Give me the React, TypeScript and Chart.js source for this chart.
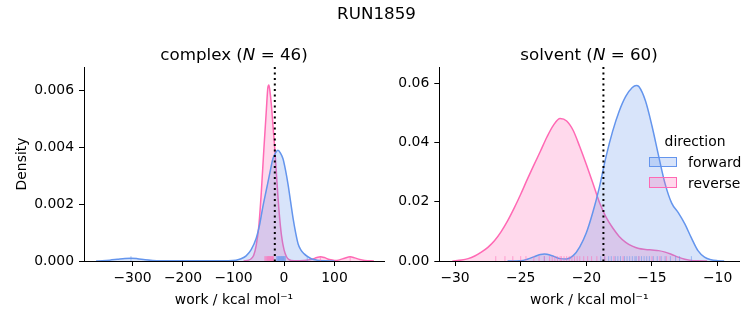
import React, { useEffect, useRef } from "react";
import { Chart, registerables } from "chart.js";

Chart.register(...registerables);

const FONT = "'DejaVu Sans', 'Liberation Sans', sans-serif";
const BLUE = "rgb(100,149,237)";
const BLUE_FILL = "rgba(100,149,237,0.25)";
const BLUE_RUG = "rgba(100,149,237,0.55)";
const PINK = "rgb(255,105,180)";
const PINK_FILL = "rgba(255,105,180,0.25)";
const PINK_RUG = "rgba(255,105,180,0.55)";

// ---------- complex phase ----------
const complexForwardX = [-372, -360, -345, -330, -315, -303, -290, -275, -260, -240, -200, -150, -110, -95, -85, -75, -65, -55, -48, -42, -35, -28, -22, -17, -12, -7, -2, 3, 8, 13, 18, 23, 28, 33, 40, 47, 55, 65, 80, 100];
const complexForwardY = [0, 0.00001, 0.00003, 0.00006, 0.00009, 0.0001, 0.00008, 0.00004, 0.00002, 0.00001, 0.000005, 0.000005, 0.00001, 0.00003, 0.00008, 0.00018, 0.0004, 0.0008, 0.0013, 0.0019, 0.0025, 0.0031, 0.0036, 0.0038, 0.0039, 0.0038, 0.0036, 0.0032, 0.0027, 0.0021, 0.0015, 0.001, 0.0006, 0.0004, 0.00025, 0.00015, 0.00007, 0.00003, 0.00001, 0];
const complexReverseX = [-80, -70, -65, -60, -55, -50, -45, -40, -35, -32, -30, -28, -25, -22, -18, -14, -10, -5, 0, 5, 10, 20, 40, 55, 65, 72, 80, 90, 100, 110, 120, 131, 140, 150, 160, 178];
const complexReverseY = [0, 0.00003, 0.00008, 0.0002, 0.00055, 0.0012, 0.0024, 0.0039, 0.0053, 0.0061, 0.0062, 0.006, 0.0055, 0.0048, 0.0039, 0.0028, 0.0018, 0.0009, 0.0004, 0.00015, 0.00005, 0.00001, 0.00002, 0.00006, 0.00012, 0.00015, 0.00012, 0.00005, 0.00002, 0.00004, 0.0001, 0.00015, 0.00011, 0.00005, 0.00002, 0];
const complexForwardRug = [-303, -15, -13, -12, -11, -10, -9, -8, -7, -6, -5, -4, -3, -2, -1, 0, 1, 3, 46];
const complexReverseRug = [-38, -36, -35, -33, -32, -31, -30, -29, -28, -27, -26, -25, -24, -23, -22, -21, 72, 131];
const complexDG = -18.2;
const complexXTicks = [-300, -200, -100, 0, 100];
const complexYTicks = [0, 0.002, 0.004, 0.006];

// ---------- solvent phase ----------
const solventForwardX = [-26, -25, -24.5, -24, -23.5, -23.2, -23, -22.5, -22, -21.5, -21, -20.5, -20, -19.5, -19, -18.5, -18, -17.5, -17, -16.5, -16.2, -16, -15.5, -15, -14.5, -14, -13.5, -13, -12.5, -12, -11.5, -11, -10.5, -10, -9.5];
const solventForwardY = [0, 0.0001, 0.0006, 0.0014, 0.0022, 0.0024, 0.0023, 0.0016, 0.0008, 0.0007, 0.0018, 0.0048, 0.0095, 0.0165, 0.025, 0.0352, 0.0437, 0.0505, 0.0555, 0.0585, 0.0592, 0.0588, 0.054, 0.0455, 0.0355, 0.026, 0.0195, 0.0163, 0.0125, 0.0078, 0.0035, 0.0013, 0.0004, 0.0001, 0];
const solventReverseX = [-30.2, -29.5, -29, -28.5, -28, -27.5, -27, -26.5, -26, -25.5, -25, -24.5, -24, -23.5, -23, -22.5, -22, -21.5, -21, -20.5, -20, -19.5, -19, -18.5, -18, -17.5, -17, -16.5, -16, -15.5, -15, -14.5, -14, -13.5, -13, -12.5, -12, -11.5, -10.8];
const solventReverseY = [0, 0.0003, 0.0008, 0.0017, 0.003, 0.0046, 0.0068, 0.0098, 0.0135, 0.0178, 0.0225, 0.0275, 0.0323, 0.037, 0.0418, 0.0458, 0.048, 0.0472, 0.044, 0.0385, 0.0325, 0.0262, 0.0197, 0.0148, 0.0112, 0.0083, 0.0063, 0.005, 0.0042, 0.0039, 0.0037, 0.0035, 0.003, 0.0022, 0.0013, 0.0006, 0.0002, 0.0001, 0];
const solventForwardRug = [-23.2, -18.9, -18.6, -18.3, -18.1, -17.8, -17.6, -17.4, -17.1, -16.9, -16.7, -16.5, -16.3, -16.2, -16.0, -15.8, -15.6, -15.4, -15.2, -14.9, -14.6, -14.3, -14.0, -13.6, -13.2, -12.9, -12.0];
const solventReverseRug = [-26.9, -26.2, -25.6, -25.0, -24.6, -24.0, -23.6, -23.2, -22.8, -22.6, -22.4, -22.2, -22.0, -21.9, -21.7, -21.5, -21.3, -21.1, -20.9, -20.7, -20.5, -20.2, -19.9, -19.6, -19.2, -18.6, -17.9, -17.2, -16.0, -15.0, -14.4, -13.9];
const solventDG = -18.7;
const solventXTicks = [-30, -25, -20, -15, -10];
const solventYTicks = [0, 0.02, 0.04, 0.06];

const fmtNum = (v: number) => (v < 0 ? "\u2212" + Math.abs(v) : String(v));

type PanelSpec = {
  fx: number[]; fy: number[]; rx: number[]; ry: number[];
  fRug: number[]; rRug: number[]; dg: number;
  xTicks: number[]; yTicks: number[]; yDigits: number;
  xMin: number; xMax: number; yMax: number;
  yWidth: number; padRight: number; yTitle: string | null;
};

function buildConfig(p: PanelSpec): any {
  const pts = (xs: number[], ys: number[]) => xs.map((x, i) => ({ x, y: ys[i] }));
  const rugPlugin = {
    id: "rug",
    afterDatasetsDraw(chart: any) {
      const { ctx, chartArea, scales } = chart;
      const h = (chartArea.bottom - chartArea.top) * 0.025;
      ctx.save();
      ctx.beginPath();
      ctx.rect(chartArea.left, chartArea.top, chartArea.right - chartArea.left, chartArea.bottom - chartArea.top);
      ctx.clip();
      ctx.lineWidth = 1;
      const groups: [number[], string][] = [[p.fRug, BLUE_RUG], [p.rRug, PINK_RUG]];
      for (const [vals, col] of groups) {
        ctx.strokeStyle = col;
        for (const v of vals) {
          const x = scales.x.getPixelForValue(v);
          ctx.beginPath();
          ctx.moveTo(x, chartArea.bottom);
          ctx.lineTo(x, chartArea.bottom - h);
          ctx.stroke();
        }
      }
      ctx.restore();
    },
  };
  const vlinePlugin = {
    id: "vline",
    afterDatasetsDraw(chart: any) {
      const { ctx, chartArea, scales } = chart;
      const x = scales.x.getPixelForValue(p.dg);
      ctx.save();
      ctx.strokeStyle = "#000";
      ctx.lineWidth = 2;
      ctx.setLineDash([2.1, 3.4]);
      ctx.beginPath();
      ctx.moveTo(x, chartArea.top);
      ctx.lineTo(x, chartArea.bottom);
      ctx.stroke();
      ctx.restore();
    },
  };
  const tickFont = { family: FONT, size: 13.9 };
  return {
    type: "line",
    data: {
      datasets: [
        { label: "forward", data: pts(p.fx, p.fy), borderColor: BLUE, backgroundColor: BLUE_FILL, fill: "origin", borderWidth: 1.5, pointRadius: 0, cubicInterpolationMode: "monotone" },
        { label: "reverse", data: pts(p.rx, p.ry), borderColor: PINK, backgroundColor: PINK_FILL, fill: "origin", borderWidth: 1.5, pointRadius: 0, cubicInterpolationMode: "monotone" },
      ],
    },
    options: {
      animation: false,
      responsive: false,
      maintainAspectRatio: false,
      events: [],
      layout: { padding: { left: 0, top: 67, right: p.padRight, bottom: 0 } },
      plugins: { legend: { display: false }, tooltip: { enabled: false }, title: { display: false } },
      scales: {
        x: {
          type: "linear",
          min: p.xMin,
          max: p.xMax,
          afterBuildTicks: (s: any) => { s.ticks = p.xTicks.map((v) => ({ value: v })); },
          afterFit: (s: any) => { s.height = 64; },
          ticks: { font: tickFont, color: "#000", padding: 4, maxRotation: 0, autoSkip: false, callback: (v: any) => fmtNum(Number(v)) },
          grid: { display: true, drawOnChartArea: false, drawTicks: true, tickLength: 5, tickColor: "#000", tickWidth: 1 },
          border: { display: true, color: "#000", width: 1 },
          title: { display: true, text: "work / kcal mol\u207B\u00B9", font: tickFont, color: "#000", padding: { top: 0, bottom: 16.7 } },
        },
        y: {
          type: "linear",
          min: 0,
          max: p.yMax,
          afterBuildTicks: (s: any) => { s.ticks = p.yTicks.map((v) => ({ value: v })); },
          afterFit: (s: any) => { s.width = p.yWidth; },
          ticks: { font: tickFont, color: "#000", padding: 5, autoSkip: false, callback: (v: any) => Number(v).toFixed(p.yDigits) },
          grid: { display: true, drawOnChartArea: false, drawTicks: true, tickLength: 5, tickColor: "#000", tickWidth: 1 },
          border: { display: true, color: "#000", width: 1 },
          title: { display: !!p.yTitle, text: p.yTitle || "", font: tickFont, color: "#000", padding: { top: 13.7, bottom: 0 } },
        },
      },
    },
    plugins: [rugPlugin, vlinePlugin],
  };
}

const complexSpec: PanelSpec = {
  fx: complexForwardX, fy: complexForwardY, rx: complexReverseX, ry: complexReverseY,
  fRug: complexForwardRug, rRug: complexReverseRug, dg: complexDG,
  xTicks: complexXTicks, yTicks: complexYTicks, yDigits: 3,
  xMin: -396, xMax: 198, yMax: 0.00683, yWidth: 84, padRight: 6, yTitle: "Density",
};
const solventSpec: PanelSpec = {
  fx: solventForwardX, fy: solventForwardY, rx: solventReverseX, ry: solventReverseY,
  fRug: solventForwardRug, rRug: solventReverseRug, dg: solventDG,
  xTicks: solventXTicks, yTicks: solventYTicks, yDigits: 2,
  xMin: -31.2, xMax: -8.35, yMax: 0.0654, yWidth: 49.3, padRight: 13.7, yTitle: null,
};

function Panel({ spec, left, width }: { spec: PanelSpec; left: number; width: number }) {
  const ref = useRef<HTMLCanvasElement | null>(null);
  useEffect(() => {
    if (!ref.current) return;
    const chart = new Chart(ref.current, buildConfig(spec));
    return () => chart.destroy();
  }, [spec]);
  return (
    <canvas ref={ref} width={width} height={325}
      style={{ position: "absolute", left, top: 0, width, height: 325 }} />
  );
}

const textStyle: React.CSSProperties = {
  position: "absolute", fontFamily: FONT, color: "#000", whiteSpace: "nowrap", lineHeight: "20px", height: 20,
};

export default function App() {
  return (
    <div style={{ position: "absolute", left: 0, top: 0, width: 753, height: 325, background: "#fff", overflow: "hidden", fontFamily: FONT }}>
      <Panel spec={complexSpec} left={0} width={390} />
      <Panel spec={solventSpec} left={390} width={363} />
      <div style={{ ...textStyle, left: 0, width: 753, top: 3, textAlign: "center", fontSize: 16.7 }}>RUN1859</div>
      <div style={{ ...textStyle, left: 84, width: 300, top: 44, textAlign: "center", fontSize: 16.7 }}>
        complex (<i>N</i> = 46)
      </div>
      <div style={{ ...textStyle, left: 439, width: 300, top: 44, textAlign: "center", fontSize: 16.7 }}>
        solvent (<i>N</i> = 60)
      </div>
      <div style={{ ...textStyle, left: 645, width: 100, top: 131, textAlign: "center", fontSize: 13.9 }}>direction</div>
      <div style={{ position: "absolute", left: 649, top: 156.5, width: 27.5, height: 10.8, boxSizing: "border-box", border: `1.3px solid ${BLUE}`, background: BLUE_FILL }} />
      <div style={{ ...textStyle, left: 688, top: 151.5, fontSize: 13.9 }}>forward</div>
      <div style={{ position: "absolute", left: 649, top: 177, width: 27.5, height: 10.8, boxSizing: "border-box", border: `1.3px solid ${PINK}`, background: PINK_FILL }} />
      <div style={{ ...textStyle, left: 688, top: 172.5, fontSize: 13.9 }}>reverse</div>
    </div>
  );
}
